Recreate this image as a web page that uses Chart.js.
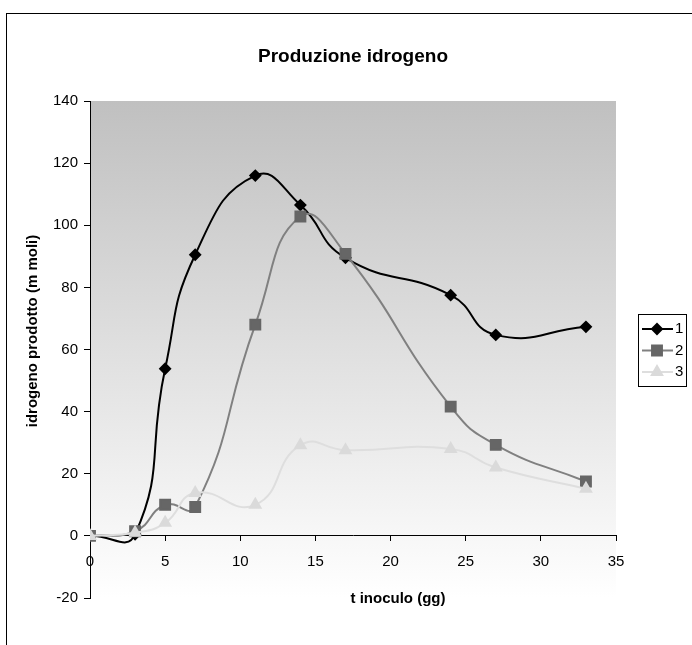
<!DOCTYPE html>
<html>
<head>
<meta charset="utf-8">
<script src="https://cdn.jsdelivr.net/npm/chart.js@4.4.0/dist/chart.umd.min.js"></script>
<style>
  html, body { margin: 0; padding: 0; background: #fff; }
  canvas { display: block; }
</style>
</head>
<body>
<canvas id="grafico" width="692" height="645"></canvas>
<script>
// giorni di inoculo e idrogeno prodotto (m moli)
var giorni = [0, 3, 5, 7, 11, 14, 17, 24, 27, 33];
var serie1 = [0, 0.5, 53.8, 90.5, 116, 106.5, 89.5, 77.5, 64.7, 67.3];
var serie2 = [0, 1.5, 10, 9.3, 68, 102.8, 90.8, 41.6, 29.3, 17.5];
var serie3 = [0, 1, 4.2, 13.8, 10, 29.2, 27.6, 28, 22, 15.2];
var nomiSerie = ['1', '2', '3'];
var xTicks = { min: 0, max: 35, step: 5 };
var yTicks = { min: -20, max: 140, step: 20 };

function punti(vals) {
    return giorni.map(function (g, i) { return { x: g, y: vals[i] }; });
}

var FONT = "'Liberation Sans', Arial, sans-serif";

var sfondo = {
    id: 'sfondo',
    beforeDraw: function (chart) {
        var ctx = chart.ctx, a = chart.chartArea;
        ctx.save();
        ctx.fillStyle = '#fff';
        ctx.fillRect(0, 0, chart.width, chart.height);
        ctx.strokeStyle = '#000';
        ctx.lineWidth = 1;
        ctx.strokeRect(6.5, 13.5, 800, 800);
        var g = ctx.createLinearGradient(0, a.top, 0, a.bottom);
        g.addColorStop(0, '#c0c0c0');
        g.addColorStop(1, '#ffffff');
        ctx.fillStyle = g;
        ctx.fillRect(a.left, a.top, a.right - a.left, a.bottom - a.top);
        ctx.restore();
    },
    afterDraw: function (chart) {
        var ctx = chart.ctx, a = chart.chartArea;
        ctx.save();
        ctx.fillStyle = '#000';
        ctx.font = 'bold 15px ' + FONT;
        ctx.textAlign = 'center';
        ctx.textBaseline = 'middle';
        // titolo asse x
        ctx.fillText('t inoculo (gg)', 398, a.bottom + 1);
        // titolo asse y
        ctx.save();
        ctx.translate(33, 331);
        ctx.rotate(-Math.PI / 2);
        ctx.fillText('idrogeno prodotto (m moli)', 0, 0);
        ctx.restore();
        // legenda
        ctx.strokeStyle = '#000';
        ctx.lineWidth = 1;
        ctx.strokeRect(638.5, 314.5, 48, 72);
        chart.data.datasets.forEach(function (ds, i) {
            var y = 329 + i * 21.5;
            ctx.strokeStyle = ds.borderColor;
            ctx.lineWidth = 2;
            ctx.beginPath();
            ctx.moveTo(642, y);
            ctx.lineTo(673, y);
            ctx.stroke();
            ctx.fillStyle = ds.pointBackgroundColor;
            ctx.strokeStyle = ds.pointBorderColor;
            Chart.helpers.drawPoint(ctx, {
                pointStyle: ds.pointStyle, radius: ds.pointRadius,
                rotation: 0, borderWidth: 1
            }, 657, y);
            ctx.fillStyle = '#000';
            ctx.font = '15px ' + FONT;
            ctx.textAlign = 'left';
            ctx.fillText(ds.label, 675, y);
        });
        ctx.restore();
    }
};

new Chart(document.getElementById('grafico'), {
    type: 'line',
    data: {
        datasets: [{
            label: nomiSerie[0],
            data: punti(serie1),
            borderColor: '#000000',
            borderWidth: 2,
            pointStyle: 'rectRot',
            pointRadius: 5,
            pointBackgroundColor: '#000000',
            pointBorderColor: '#000000',
            order: 3
        }, {
            label: nomiSerie[1],
            data: punti(serie2),
            borderColor: '#808080',
            borderWidth: 2,
            pointStyle: 'rect',
            pointRadius: 7,
            pointBackgroundColor: '#666666',
            pointBorderColor: '#666666',
            order: 2
        }, {
            label: nomiSerie[2],
            data: punti(serie3),
            borderColor: '#dedede',
            borderWidth: 2,
            pointStyle: 'triangle',
            pointRadius: 6,
            pointBackgroundColor: '#dadada',
            pointBorderColor: '#dadada',
            order: 1
        }]
    },
    options: {
        responsive: false,
        animation: false,
        layout: { padding: { left: 0, right: 76, top: 0, bottom: 47 } },
        plugins: {
            legend: { display: false },
            tooltip: { enabled: false },
            title: {
                display: true,
                fullSize: false,
                text: 'Produzione idrogeno',
                color: '#000',
                font: { family: FONT, size: 19, weight: 'bold' },
                padding: { top: 45.6, bottom: 32.6 }
            }
        },
        elements: { line: { tension: 0.5 } },
        scales: {
            x: {
                type: 'linear',
                position: { y: 0 },
                min: xTicks.min, max: xTicks.max,
                ticks: { stepSize: xTicks.step, color: '#000', padding: 12, font: { family: FONT, size: 15 } },
                grid: { drawOnChartArea: false, tickLength: 5, tickColor: '#000' },
                border: { color: '#000' }
            },
            y: {
                min: yTicks.min, max: yTicks.max,
                ticks: { stepSize: yTicks.step, color: '#000', padding: 6, font: { family: FONT, size: 15 } },
                grid: { drawOnChartArea: false, tickLength: 6, tickColor: '#000' },
                border: { color: '#000' },
                afterFit: function (s) { s.width = 90; }
            }
        }
    },
    plugins: [sfondo]
});
</script>
</body>
</html>
